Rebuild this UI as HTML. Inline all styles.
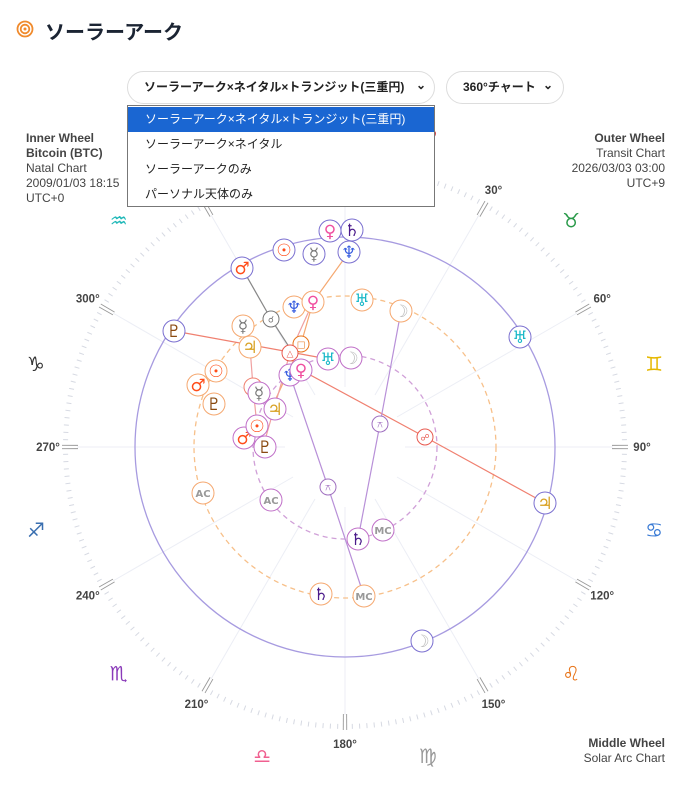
<!DOCTYPE html>
<html><head><meta charset="utf-8">
<style>
body{margin:0;background:#fff;width:697px;height:812px;overflow:hidden;font-family:"Liberation Sans","Noto Sans CJK JP",sans-serif;position:relative}
.t{position:absolute;font-size:12px;color:#444;line-height:15px}
.sel{position:absolute;top:71px;height:33px;border:1px solid #ddd;border-radius:17px;box-sizing:border-box;font-size:12px;font-weight:bold;color:#222;line-height:31px;padding-left:16px}
.dd{position:absolute;left:127px;top:105px;width:308px;height:102px;border:1px solid #777;box-sizing:border-box;background:#fff;font-size:12px;color:#222}
.dd div{height:25px;line-height:25px;padding-left:17px}
</style></head><body>
<svg style="position:absolute;left:16px;top:20px" width="18" height="18"><circle cx="9" cy="9" r="7.5" fill="none" stroke="#f08a2c" stroke-width="1.8"/><circle cx="9" cy="9" r="4.3" fill="none" stroke="#f08a2c" stroke-width="1.8"/><circle cx="9" cy="9" r="1.5" fill="#f08a2c"/></svg>
<div style="position:absolute;left:45px;top:16px;font-size:20px;font-weight:bold;color:#1b2433">ソーラーアーク</div>

<svg id="c" style="position:absolute;left:0;top:0" width="697" height="812"></svg>

<div class="sel" style="left:127px;width:308px">ソーラーアーク×ネイタル×トランジット(三重円)<span style="position:absolute;right:8px;top:-2px">⌄</span></div>
<div class="sel" style="left:446px;width:118px">360°チャート<span style="position:absolute;right:10px;top:-2px">⌄</span></div>
<div class="dd">
<div style="background:#1a66d2;color:#fff;margin-top:1px">ソーラーアーク×ネイタル×トランジット(三重円)</div>
<div>ソーラーアーク×ネイタル</div><div>ソーラーアークのみ</div><div>パーソナル天体のみ</div></div>

<div class="t" style="left:26px;top:131px"><b>Inner Wheel<br>Bitcoin (BTC)</b><br>Natal Chart<br>2009/01/03 18:15<br>UTC+0</div>
<div class="t" style="right:32px;top:131px;text-align:right"><b>Outer Wheel</b><br>Transit Chart<br>2026/03/03 03:00<br>UTC+9</div>
<div class="t" style="right:32px;top:736px;text-align:right"><b>Middle Wheel</b><br>Solar Arc Chart</div>

<script>
const s=document.getElementById('c');const cx=345,cy=447;let h='';
const P=(r,a)=>[cx+r*Math.sin(a*Math.PI/180),cy-r*Math.cos(a*Math.PI/180)];
for(let a=0;a<360;a+=30){const[x1,y1]=P(60,a),[x2,y2]=P(268,a);h+=`<line x1="${x1}" y1="${y1}" x2="${x2}" y2="${y2}" stroke="#eceef5" stroke-width="1"/>`;}
for(let a=0;a<360;a+=1.5){if(a%30==0)continue;let r1=(a%10==0)?272:277;const[x1,y1]=P(r1,a),[x2,y2]=P(282,a);
 h+=`<line x1="${x1}" y1="${y1}" x2="${x2}" y2="${y2}" stroke="#d6d9e2" stroke-width="1"/>`;}
for(let a=0;a<360;a+=30){for(const d of[-0.35,0.35]){const[a1,b1]=P(267,a+d),[a2,b2]=P(283,a+d);h+=`<line x1="${a1}" y1="${b1}" x2="${a2}" y2="${b2}" stroke="#999" stroke-width="0.9"/>`;}}
for(let a=0;a<360;a+=30){const[x,y]=P(297,a);h+=`<text x="${x}" y="${y+4}" font-size="11.5" font-weight="bold" fill="#444" text-anchor="middle">${a}°</text>`;}
const Z=[['♓',345,'#3a8'],['♈',15,'#c33'],['♉',45,'#2a9a4a'],['♊',75,'#e6b800'],['♋',105,'#3a7bd5'],['♌',135,'#e8751a'],['♍',165,'#999'],['♎',195,'#f06090'],['♏',225,'#8a3ab9'],['♐',255,'#3a6fb0'],['♑',285,'#333'],['♒',315,'#1fb8b8']];
for(const[g,a,c]of Z){const[x,y]=P(320,a);h+=`<text x="${x}" y="${y+7}" font-size="20" fill="${c}" text-anchor="middle" font-family="DejaVu Sans">${g}</text>`;}
h+=`<circle cx="${cx}" cy="${cy}" r="210" fill="none" stroke="#a79be0" stroke-width="1.3"/>`;
h+=`<circle cx="${cx}" cy="${cy}" r="151" fill="none" stroke="#f7c08a" stroke-width="1.3" stroke-dasharray="5,4"/>`;
h+=`<circle cx="${cx}" cy="${cy}" r="92" fill="none" stroke="#d0a0d8" stroke-width="1.3" stroke-dasharray="5,4"/>`;
const L=(pts,c)=>{h+=`<polyline points="${pts.map(p=>p.join(',')).join(' ')}" fill="none" stroke="${c}" stroke-width="1.2"/>`;};
L([[242,268],[271,319],[293,353]],'#888');
L([[349,252],[313,302],[301,344],[273,405]],'#f5a870');
L([[313,302],[290,353],[265,440]],'#f0a0a0');
L([[174,331],[328,359]],'#f08070');
L([[301,370],[425,437],[545,503]],'#f08070');
L([[401,311],[380,424],[358,539]],'#b890d8');
L([[290,375],[328,487],[364,596]],'#b890d8');
L([[250,347],[253,387],[257,426]],'#f0a0a0');
const col={'☉':'#ff4d1a','☽':'#bbb','☿':'#777','♀':'#f050a0','♂':'#ff4d1a','♃':'#d8a020','♄':'#4a1a8a','♅':'#1ab8c8','♆':'#3a5fe0','♇':'#8a4a10','AC':'#999','MC':'#999'};
const B=(g,x,y,bc)=>{h+=`<circle cx="${x}" cy="${y}" r="11" fill="#fff" stroke="${bc}" stroke-width="1"/>`;
 const ac=g.length>1;h+=`<text x="${x}" y="${y+(ac?4:6)}" font-size="${ac?10:17}" font-weight="bold" fill="${col[g]}" text-anchor="middle" font-family="DejaVu Sans">${g}</text>`;};
const A=(g,x,y,c)=>{h+=`<circle cx="${x}" cy="${y}" r="8" fill="#fff" stroke="${c}" stroke-width="1"/><text x="${x}" y="${y+3.5}" font-size="9" fill="${c}" text-anchor="middle" font-family="DejaVu Sans">${g}</text>`;};
A('☌',271,319,'#777');A('□',301,344,'#e8751a');A('△',290,353,'#e85a50');A('⚻',380,424,'#a070c0');A('⚻',328,487,'#a070c0');A('☍',425,437,'#e85a50');
h+=`<circle cx="253" cy="387" r="9" fill="#fff" stroke="#f08070"/>`;
const O='#7b70d0',M='#f5a870',I='#c070c8';
[['♀',330,231],['♄',352,230],['☉',284,250],['☿',314,254],['♆',349,252],['♂',242,268],['♇',174,331],['♅',520,337],['♃',545,503],['☽',422,641]].forEach(p=>B(p[0],p[1],p[2],O));
[['♆',294,307],['♀',313,302],['♅',362,300],['☽',401,311],['☿',243,326],['♃',250,347],['☉',216,371],['♂',198,385],['♇',214,404],['AC',203,493],['♄',321,594],['MC',364,596]].forEach(p=>B(p[0],p[1],p[2],M));
[['♅',328,359],['☽',351,358],['♆',290,375],['♀',301,370],['☿',259,393],['♃',275,409],['♂',244,438],['☉',257,426],['♇',265,447],['AC',271,500],['♄',358,539],['MC',383,530]].forEach(p=>B(p[0],p[1],p[2],I));
s.innerHTML=h;
</script>
</body></html>
